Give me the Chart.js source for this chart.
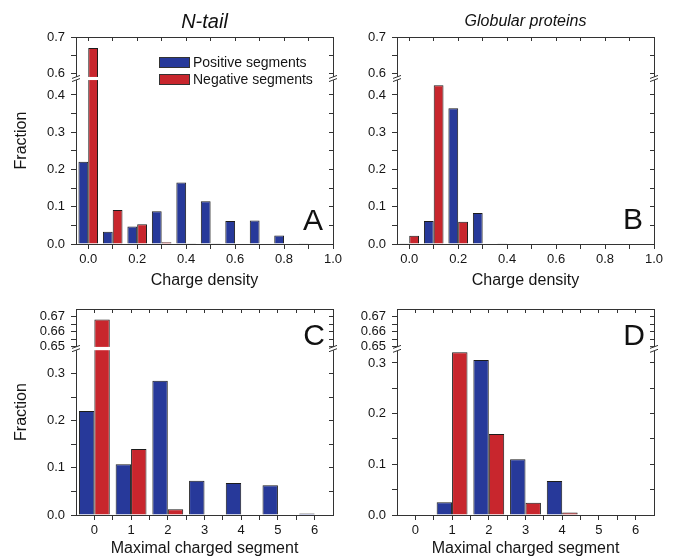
<!DOCTYPE html>
<html>
<head>
<meta charset="utf-8">
<script src="https://cdn.jsdelivr.net/npm/chart.js@4.4.1/dist/chart.umd.min.js"></script>
<style>
  html, body { margin: 0; padding: 0; background: #fff; }
  #wrap { position: relative; width: 675px; height: 557px; overflow: hidden; }
  #wrap canvas { position: absolute; left: 0; top: 0; }
</style>
</head>
<body>
<div id="wrap">
  <canvas id="panelA" width="675" height="557"></canvas>
  <canvas id="panelB" width="675" height="557"></canvas>
  <canvas id="panelC" width="675" height="557"></canvas>
  <canvas id="panelD" width="675" height="557"></canvas>
</div>
<script>
const family = "'Liberation Sans', Arial, Helvetica, sans-serif";
Chart.defaults.font.family = family;
Chart.defaults.color = '#151515';

// series
const seriesNames = ['Positive segments', 'Negative segments'];
const seriesColors = ['#27399a', '#c8262d'];

// charge density histograms (bins of 0.1)
const densityBins = [0, 0.1, 0.2, 0.3, 0.4, 0.5, 0.6, 0.7, 0.8, 0.9];
const ntailDensityPositive = [0.221, 0.033, 0.047, 0.088, 0.165, 0.115, 0.062, 0.063, 0.023, 0.002];
const ntailDensityNegative = [0.670, 0.091, 0.053, 0.005, 0.002, 0.001, 0, 0, 0, 0];
const globularDensityPositive = [0.001, 0.062, 0.364, 0.083, 0.002, 0, 0, 0, 0, 0];
const globularDensityNegative = [0.022, 0.426, 0.060, 0, 0, 0, 0, 0, 0, 0];

// maximal charged segment histograms
const segmentBins = [0, 1, 2, 3, 4, 5, 6];
const ntailSegmentPositive = [0.221, 0.108, 0.285, 0.073, 0.068, 0.063, 0.003];
const ntailSegmentNegative = [0.668, 0.140, 0.012, 0.001, 0, 0, 0];
const globularSegmentPositive = [0, 0.025, 0.306, 0.110, 0.067, 0.001, 0.001];
const globularSegmentNegative = [0, 0.321, 0.160, 0.024, 0.005, 0, 0];

// ticks
const densityXTicks = [0, 0.1, 0.2, 0.3, 0.4, 0.5, 0.6, 0.7, 0.8, 0.9, 1.0];
const densityXLabels = ['0.0', '', '0.2', '', '0.4', '', '0.6', '', '0.8', '', '1.0'];
const segmentXTicks = [0, 0.5, 1, 1.5, 2, 2.5, 3, 3.5, 4, 4.5, 5, 5.5, 6];
const segmentXLabels = ['0', '', '1', '', '2', '', '3', '', '4', '', '5', '', '6'];
const densityYTicks = [0, 0.05, 0.1, 0.15, 0.2, 0.25, 0.3, 0.35, 0.4, 0.6, 0.65, 0.7];
const densityYLabels = ['0.0', '', '0.1', '', '0.2', '', '0.3', '', '0.4', '0.6', '', '0.7'];
const segmentYTicks = [0, 0.05, 0.1, 0.15, 0.2, 0.25, 0.3, 0.65, 0.655, 0.66, 0.665, 0.67];
const segmentYLabels = ['0.0', '', '0.1', '', '0.2', '', '0.3', '0.65', '', '0.66', '', '0.67'];

// linear scale with a broken (two segment) range
class BrokenScale extends Chart.LinearScale {
  static id = 'broken';
  static defaults = {};
  configure() {
    super.configure();
    const o = this.options;
    this._brk = { lowMax: o.lowMax, highMin: o.highMin, lowTop: o.lowTop, highBottom: o.highBottom };
  }
  getPixelForValue(value) {
    if (value === null || value === undefined) return NaN;
    const b = this._brk;
    let d;
    if (value <= b.lowMax) {
      d = (value - this.min) / (b.lowMax - this.min) * b.lowTop;
    } else if (value >= b.highMin) {
      d = b.highBottom + (value - b.highMin) / (this.max - b.highMin) * (1 - b.highBottom);
    } else {
      d = b.lowTop + (value - b.lowMax) / (b.highMin - b.lowMax) * (b.highBottom - b.lowTop);
    }
    return this.getPixelForDecimal(d);
  }
}
Chart.register(BrokenScale);

// white gap + // marks where the y axis is broken
const axisBreak = {
  id: 'axisBreak',
  afterDatasetsDraw(chart) {
    const { ctx, chartArea: a } = chart;
    const y = chart.scales.y;
    const top = y.getPixelForDecimal(y._brk.highBottom);
    const bottom = y.getPixelForDecimal(y._brk.lowTop);
    ctx.save();
    ctx.fillStyle = '#fff';
    ctx.fillRect(a.left - 1.5, top, a.right - a.left + 3, bottom - top);
    ctx.strokeStyle = '#333';
    ctx.lineWidth = 1;
    ctx.beginPath();
    for (const x of [a.left, a.right]) {
      for (const yy of [top, bottom]) {
        ctx.moveTo(x - 4, yy + 1.5);
        ctx.lineTo(x + 4, yy - 1.5);
      }
    }
    ctx.stroke();
    ctx.restore();
  }
};

// big panel letter
const panelTag = {
  id: 'panelTag',
  afterDraw(chart, args, opts) {
    if (!opts.text) return;
    const { ctx, chartArea: a } = chart;
    ctx.save();
    ctx.font = '30px ' + family;
    ctx.fillStyle = '#111';
    ctx.textAlign = 'right';
    ctx.textBaseline = 'alphabetic';
    const y = opts.fromTop ? a.top + opts.dy : a.bottom - opts.dy;
    ctx.fillText(opts.text, a.right - opts.dx, y);
    ctx.restore();
  }
};

// legend inside the plot frame
const boxLegend = {
  id: 'boxLegend',
  afterDraw(chart, args, opts) {
    if (!opts.display) return;
    const { ctx, chartArea: a } = chart;
    ctx.save();
    ctx.font = '14px ' + family;
    ctx.textBaseline = 'middle';
    chart.data.datasets.forEach((ds, i) => {
      const x = a.left + opts.left;
      const y = a.top + opts.top + i * 17;
      ctx.fillStyle = ds.backgroundColor;
      ctx.fillRect(x, y, 31, 11);
      ctx.strokeStyle = '#333';
      ctx.lineWidth = 1;
      ctx.strokeRect(x + 0.5, y + 0.5, 30, 10);
      ctx.fillStyle = '#151515';
      ctx.fillText(ds.label, x + 34, y + 6);
    });
    ctx.restore();
  }
};

function drawPanel(canvasId, p) {
  const W = 675, H = 557;
  const axisColor = '#333';
  const frame = (tickLength) => ({
    grid: { display: true, drawOnChartArea: false, drawTicks: true, tickLength: tickLength, color: axisColor, lineWidth: 1, offset: false },
    border: { display: true, color: axisColor, width: 1 }
  });
  const noPad = (s) => { s.paddingLeft = 0; s.paddingRight = 0; s.paddingTop = 0; s.paddingBottom = 0; };
  const brokenOpts = {
    type: 'broken', min: p.yMin, max: p.yMax,
    lowMax: p.lowMax, highMin: p.highMin, lowTop: p.lowTop, highBottom: p.highBottom
  };
  const titleBlock = p.title ? p.area.top : 0;

  new Chart(document.getElementById(canvasId), {
    type: 'bar',
    data: {
      labels: p.bins,
      datasets: [p.pos, p.neg].map((vals, i) => ({
        label: seriesNames[i],
        data: vals,
        backgroundColor: seriesColors[i],
        borderColor: '#1c1c1c',
        borderWidth: 1,
        xAxisID: 'x',
        yAxisID: 'y',
        barPercentage: 1,
        categoryPercentage: p.catPct
      }))
    },
    options: {
      responsive: false,
      animation: false,
      events: [],
      layout: {
        padding: {
          left: p.area.left - p.yW,
          right: W - p.area.right,
          top: p.area.top - titleBlock,
          bottom: H - p.area.bottom - p.xH
        }
      },
      scales: {
        x: Object.assign({
          type: 'linear', position: 'bottom', min: p.xMin, max: p.xMax, offset: false,
          afterBuildTicks: (s) => { s.ticks = p.xTicks.map(v => ({ value: v })); },
          afterFit: (s) => { s.height = p.xH; noPad(s); },
          ticks: { autoSkip: false, maxRotation: 0, padding: 3, font: { size: 13 }, callback: (v, i) => p.xLabels[i] },
          title: { display: true, text: p.xTitle, font: { size: 16, lineHeight: 1 }, padding: { top: 0, bottom: p.xTitlePad } }
        }, frame(5)),
        x2: Object.assign({
          type: 'linear', position: 'top', min: p.xMin, max: p.xMax, offset: false,
          afterBuildTicks: (s) => { s.ticks = p.xTicks.map(v => ({ value: v })); },
          afterFit: (s) => { s.height = 0; noPad(s); },
          ticks: { display: false, autoSkip: false }
        }, frame(-4)),
        y: Object.assign({}, brokenOpts, {
          position: 'left',
          afterBuildTicks: (s) => { s.ticks = p.yTicks.map(v => ({ value: v })); },
          afterFit: (s) => { s.width = p.yW; noPad(s); },
          ticks: { autoSkip: false, padding: 6, font: { size: 13 }, callback: (v, i) => p.yLabels[i] },
          title: { display: !!p.yTitle, text: p.yTitle || '', font: { size: 16, lineHeight: 1 }, padding: { top: 14, bottom: 0 } }
        }, frame(5)),
        y2: Object.assign({}, brokenOpts, {
          position: 'right',
          afterBuildTicks: (s) => { s.ticks = p.yTicks.map(v => ({ value: v })); },
          afterFit: (s) => { s.width = 0; noPad(s); },
          ticks: { display: false, autoSkip: false }
        }, frame(-4))
      },
      plugins: {
        legend: { display: false },
        tooltip: { enabled: false },
        title: p.title ? {
          display: true, text: p.title, fullSize: false, color: '#111',
          font: { size: p.titleSize, style: 'italic', weight: 'normal', lineHeight: 1.2 },
          padding: { top: p.titlePadTop, bottom: p.area.top - p.titlePadTop - p.titleSize * 1.2 }
        } : { display: false },
        panelTag: p.tag,
        boxLegend: p.legend || { display: false }
      }
    },
    plugins: [axisBreak, panelTag, boxLegend]
  });
}

drawPanel('panelA', {
  area: { left: 76, top: 37, right: 333, bottom: 244 }, yW: 76, xH: 46,
  bins: densityBins, pos: ntailDensityPositive, neg: ntailDensityNegative, catPct: 0.8,
  xMin: -0.05, xMax: 1.0, xTicks: densityXTicks, xLabels: densityXLabels, xTitle: 'Charge density', xTitlePad: 1,
  yMin: 0, yMax: 0.7, lowMax: 0.44, highMin: 0.59, lowTop: 0.792, highBottom: 0.807,
  yTicks: densityYTicks, yLabels: densityYLabels, yTitle: 'Fraction',
  title: 'N-tail', titleSize: 20, titlePadTop: 10,
  tag: { text: 'A', dx: 10, dy: 14 },
  legend: { display: true, left: 83, top: 20 }
});

drawPanel('panelB', {
  area: { left: 397, top: 37, right: 654, bottom: 244 }, yW: 60, xH: 46,
  bins: densityBins, pos: globularDensityPositive, neg: globularDensityNegative, catPct: 0.8,
  xMin: -0.05, xMax: 1.0, xTicks: densityXTicks, xLabels: densityXLabels, xTitle: 'Charge density', xTitlePad: 1,
  yMin: 0, yMax: 0.7, lowMax: 0.44, highMin: 0.59, lowTop: 0.792, highBottom: 0.807,
  yTicks: densityYTicks, yLabels: densityYLabels, yTitle: null,
  title: 'Globular proteins', titleSize: 16, titlePadTop: 12,
  tag: { text: 'B', dx: 11, dy: 15 }
});

drawPanel('panelC', {
  area: { left: 76, top: 309, right: 333, bottom: 515 }, yW: 76, xH: 42,
  bins: segmentBins, pos: ntailSegmentPositive, neg: ntailSegmentNegative, catPct: 1.68,
  xMin: -0.5, xMax: 6.5, xTicks: segmentXTicks, xLabels: segmentXLabels, xTitle: 'Maximal charged segment', xTitlePad: 0,
  yMin: 0, yMax: 0.675, lowMax: 0.35, highMin: 0.65, lowTop: 0.80, highBottom: 0.816,
  yTicks: segmentYTicks, yLabels: segmentYLabels, yTitle: 'Fraction',
  title: null,
  tag: { text: 'C', dx: 8, dy: 36, fromTop: true }
});

drawPanel('panelD', {
  area: { left: 397, top: 309, right: 654, bottom: 515 }, yW: 60, xH: 42,
  bins: segmentBins, pos: globularSegmentPositive, neg: globularSegmentNegative, catPct: 1.68,
  xMin: -0.5, xMax: 6.5, xTicks: segmentXTicks, xLabels: segmentXLabels, xTitle: 'Maximal charged segment', xTitlePad: 0,
  yMin: 0, yMax: 0.675, lowMax: 0.324, highMin: 0.65, lowTop: 0.797, highBottom: 0.816,
  yTicks: segmentYTicks, yLabels: segmentYLabels, yTitle: null,
  title: null,
  tag: { text: 'D', dx: 9, dy: 36, fromTop: true }
});
</script>
</body>
</html>
